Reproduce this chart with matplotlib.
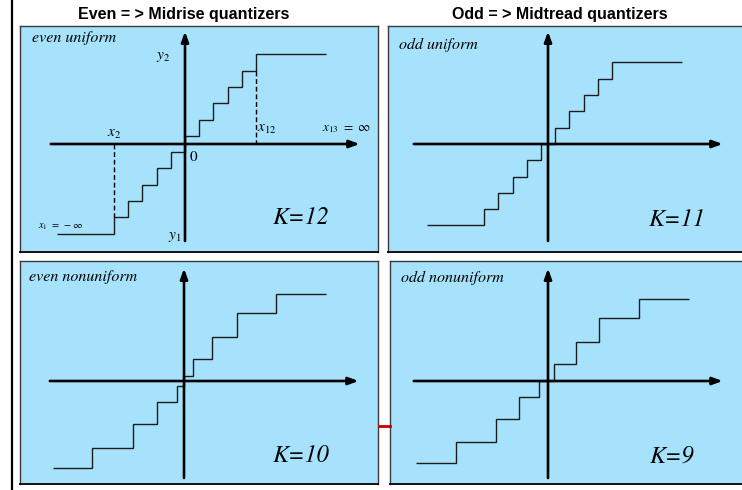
import matplotlib
matplotlib.use("Agg")
import matplotlib.pyplot as plt
from matplotlib.lines import Line2D

plt.rcParams["mathtext.fontset"] = "stix"
SERIF = "STIXGeneral"
TITLE_FONT = ["Liberation Sans Narrow", "Liberation Sans", "DejaVu Sans"]

# ---- quantizer data (decision thresholds, output levels, outer extent) ----
even_uni_thresholds = [-5, -4, -3, -2, -1, 0, 1, 2, 3, 4, 5]
even_uni_levels = [-5.5, -4.5, -3.5, -2.5, -1.5, -0.5, 0.5, 1.5, 2.5, 3.5, 4.5, 5.5]
even_uni_ends = (-9.0, 9.93)

odd_uni_thresholds = [-4.5, -3.5, -2.5, -1.5, -0.5, 0.5, 1.5, 2.5, 3.5, 4.5]
odd_uni_levels = [-5, -4, -3, -2, -1, 0, 1, 2, 3, 4, 5]
odd_uni_ends = (-8.5, 9.44)

even_non_thresholds = [-6.5, -3.6, -1.9, -0.5, 0, 0.6, 2.0, 3.7, 6.5]
even_non_levels = [-5.35, -4.1, -2.65, -1.3, -0.3, 0.3, 1.35, 2.7, 4.15, 5.35]
even_non_ends = (-9.2, 10.0)

odd_non_thresholds = [-6.5, -3.65, -2.05, -0.6, 0.45, 2.0, 3.6, 6.4]
odd_non_levels = [-5.0, -3.75, -2.35, -1.0, 0, 1.05, 2.4, 3.85, 5.05]
odd_non_ends = (-9.3, 9.93)

panel_names = ["even uniform", "odd uniform", "even nonuniform", "odd nonuniform"]
k_labels = ["K=12", "K=11", "K=10", "K=9"]
column_titles = ["Even = > Midrise quantizers", "Odd = > Midtread quantizers"]

# ---- layout ----
W, H = 742, 490
SX, SY = 14.2, 16.3          # pixels per unit along x and y
PANEL_BG = "#a6e2fc"

fig = plt.figure(figsize=(W / 100, H / 100), dpi=100)


def panel(rect, origin):
    """rect = (left, top, right, bottom) in px; origin = axis crossing in px."""
    l, t, r, b = rect
    ox, oy = origin
    ax = fig.add_axes([l / W, 1 - b / H, (r - l) / W, (b - t) / H])
    ax.set_xlim((l - ox) / SX, (r - ox) / SX)
    ax.set_ylim((oy - b) / SY, (oy - t) / SY)
    ax.set_facecolor(PANEL_BG)
    for side, sp in ax.spines.items():
        sp.set_color("#3a3a3a")
        sp.set_linewidth(1.0)
    ax.spines["bottom"].set_color("#111111")
    ax.spines["bottom"].set_linewidth(1.4)
    ax.set_xticks([])
    ax.set_yticks([])
    return ax


def draw_axes_cross(ax):
    arrow = dict(arrowstyle="-|>,head_length=0.6,head_width=0.22", lw=1.9,
                 color="black", mutation_scale=10, shrinkA=0, shrinkB=0)
    ax.annotate("", xy=(12.3, 0), xytext=(-9.45, 0), arrowprops=arrow, zorder=5)
    ax.annotate("", xy=(0, 6.9), xytext=(0, -5.95), arrowprops=arrow, zorder=5)


def draw_quantizer(ax, thresholds, levels, ends):
    edges = [ends[0]] + list(thresholds) + [ends[1]]
    ax.stairs(levels, edges, baseline=None, color="#1c1c1c", lw=1.0, zorder=3)


def italic(ax, x, y, s, size, **kw):
    ax.text(x, y, s, family=SERIF, style="italic", fontsize=size, **kw)


rects = [(20, 26, 378, 252), (388, 26, 746, 252),
         (20, 261, 378, 484), (390, 261, 746, 484)]
origins = [(185, 144), (548, 144), (184, 381), (548, 381)]
data = [(even_uni_thresholds, even_uni_levels, even_uni_ends),
        (odd_uni_thresholds, odd_uni_levels, odd_uni_ends),
        (even_non_thresholds, even_non_levels, even_non_ends),
        (odd_non_thresholds, odd_non_levels, odd_non_ends)]
name_pos = [(-10.77, 6.5), (-10.49, 6.07), (-10.92, 6.38), (-10.35, 6.32)]
k_pos = [(8.17, -4.54), (9.08, -4.66), (8.24, -4.6), (8.73, -4.6)]

axes = []
for i in range(4):
    ax = panel(rects[i], origins[i])
    th, lv, ends = data[i]
    draw_quantizer(ax, th, lv, ends)
    draw_axes_cross(ax)
    italic(ax, name_pos[i][0], name_pos[i][1], panel_names[i], 11.5,
           ha="left", va="center")
    italic(ax, k_pos[i][0], k_pos[i][1], k_labels[i], 17.5,
           ha="center", va="center")
    axes.append(ax)

# annotations of the even uniform quantizer
ax = axes[0]
th, lv = even_uni_thresholds, even_uni_levels
ax.plot([th[0], th[0]], [0, lv[1]], ls=(0, (3.5, 2)), color="black", lw=1.0, zorder=4)
ax.plot([th[-1], th[-1]], [lv[-2], 0], ls=(0, (3.5, 2)), color="black", lw=1.0, zorder=4)
ax.text(-1.55, 5.34, r"$y_{\rm 2}$", fontsize=11, ha="center", va="center")
ax.text(th[0], 0.67, r"$x_{\rm 2}$", fontsize=11, ha="center", va="center")
ax.text(0.56, -0.8, "0", family=SERIF, fontsize=11, ha="center", va="center")
ax.text(5.77, 0.98, r"$x_{\rm 12}$", fontsize=11, ha="center", va="center")
ax.text(11.4, 0.98, r"$x_{\rm 13}\ =\ \infty$", fontsize=9.5, ha="center", va="center")
ax.text(-10.35, -5.09, r"$x_{\rm 1}\ =\ -\infty$", fontsize=7.5, ha="left", va="center")
ax.text(-0.7, -5.7, r"$y_{\rm 1}$", fontsize=11, ha="center", va="center")

# column titles
fig.text(184 / W, 1 - 15 / H, column_titles[0], family=TITLE_FONT,
         weight="bold", fontsize=11.5, ha="center", va="center")
fig.text(560 / W, 1 - 15 / H, column_titles[1], family=TITLE_FONT,
         weight="bold", fontsize=11.5, ha="center", va="center")

# page decorations
fig.add_artist(Line2D([11.5 / W, 11.5 / W], [0, 1], lw=1.6, color="black",
                      transform=fig.transFigure))
fig.add_artist(Line2D([379 / W, 390 / W], [1 - 426 / H, 1 - 426 / H], lw=2.0,
                      color="#c00000", transform=fig.transFigure))

fig.savefig("out.png", dpi=100, facecolor="white")
